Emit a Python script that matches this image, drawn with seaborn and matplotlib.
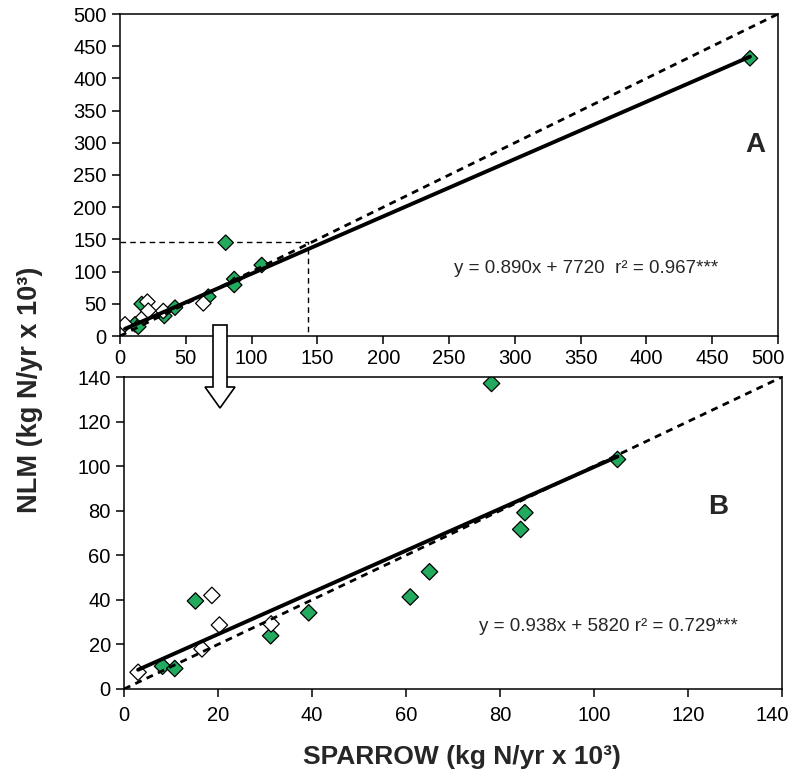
import numpy as np
import pandas as pd
import seaborn as sns
import matplotlib.pyplot as plt
from matplotlib.patches import Polygon
from matplotlib.transforms import ScaledTranslation

sns.set_style('ticks')
plt.rcParams['font.family'] = ['Liberation Sans', 'DejaVu Sans']

GREEN = '#22ab5f'

# Panel A: all watersheds (SPARROW vs NLM, kg N/yr x 10^3)
a_open_x = [3.8, 17.7, 20.8, 21.5, 32.9, 63.3]
a_open_y = [18.1, 29.0, 53.3, 39.3, 38.8, 50.7]
a_fill_x = [11.4, 13.9, 16.5, 33.7, 41.8, 67.1, 80.3, 86.8, 86.8, 107.7, 478.7]
a_fill_y = [18.1, 14.4, 49.7, 31.1, 44.0, 61.1, 144.9, 88.5, 79.2, 110.2, 431.2]

# Panel B: zoom on the small watersheds
b_open_x = [3.0, 16.6, 18.7, 20.3, 31.3]
b_open_y = [7.5, 18.0, 42.0, 28.7, 29.2]
b_fill_x = [8.2, 10.8, 15.2, 31.2, 39.3, 60.9, 65.0, 78.2, 84.4, 85.3, 105.0]
b_fill_y = [10.2, 9.2, 39.5, 23.9, 34.2, 41.3, 52.6, 137.1, 71.6, 79.1, 103.0]

# regression fits (slope, intercept in 10^3 units)
fit_a = (0.890, 7.720)
fit_b = (0.938, 5.820)
label_a = 'y = 0.890x + 7720  r² = 0.967***'
label_b = 'y = 0.938x + 5820 r² = 0.729***'

# zoom box drawn on panel A
zoom_x, zoom_y = 143, 146


def make_df(fx, fy, ox, oy):
    return pd.DataFrame({
        'SPARROW': fx + ox,
        'NLM': fy + oy,
        'group': ['filled'] * len(fx) + ['open'] * len(ox),
    })


def draw_panel(ax, df, fit, lim, step, text, text_xy, letter, letter_xy, msize):
    sns.scatterplot(data=df, x='SPARROW', y='NLM', hue='group',
                    palette={'filled': GREEN, 'open': 'white'},
                    marker='D', s=msize, edgecolor='black', linewidth=0.9,
                    legend=False, ax=ax, zorder=2)
    # 1:1 line
    ax.plot([0, lim], [0, lim], color='black', lw=2, ls=(0, (2.5, 2)), zorder=3)
    # regression line over data range
    xs = np.array([df['SPARROW'].min(), df['SPARROW'].max()])
    ax.plot(xs, fit[0] * xs + fit[1], color='black', lw=2.8, zorder=3)
    ax.set_xlim(0, lim)
    ax.set_ylim(0, lim)
    ticks = np.arange(0, lim + 1, step)
    ax.set_xticks(ticks)
    ax.set_yticks(ticks)
    ax.set_xlabel('')
    ax.set_ylabel('')
    ax.tick_params(direction='out', length=5.5, width=1.1, labelsize=14.5, pad=4, colors='black')
    for s in ax.spines.values():
        s.set_visible(True)
        s.set_linewidth(1.1)
        s.set_color('black')
    ax.text(text_xy[0], text_xy[1], text, fontsize=13.5, va='center', ha='left')
    ax.text(letter_xy[0], letter_xy[1], letter, fontsize=20, fontweight='bold',
            va='center', ha='center')


fig = plt.figure(figsize=(7.93, 7.73), dpi=100)
W, H = 793, 773
ax_a = fig.add_axes([120 / W, (H - 336) / H, 658 / W, 322 / H])
ax_b = fig.add_axes([124 / W, (H - 689) / H, 658 / W, 312 / H])

draw_panel(ax_a, make_df(a_fill_x, a_fill_y, a_open_x, a_open_y), fit_a, 500, 50,
           label_a, (254, 105), 'A', (483, 297), 62)
ax_a.plot([0, zoom_x, zoom_x], [zoom_y, zoom_y, 0], color='black', lw=1,
          ls=(0, (4, 3)), zorder=1)

draw_panel(ax_b, make_df(b_fill_x, b_fill_y, b_open_x, b_open_y), fit_b, 140, 20,
           label_b, (75.5, 28), 'B', (126.4, 81.7), 70)
ax_b.tick_params(axis='x', pad=7)

# keep the right-most tick labels inside the figure
for ax in (ax_a, ax_b):
    last = ax.get_xticklabels()[-1]
    last.set_transform(last.get_transform() + ScaledTranslation(-0.1, 0, fig.dpi_scale_trans))

# hollow arrow from panel A down to panel B
arrow_px = [(213, 325), (227, 325), (227, 387), (235, 387), (220, 408), (205, 387), (213, 387)]
arrow = Polygon([(x / 100, (H - y) / 100) for x, y in arrow_px], closed=True,
                facecolor='white', edgecolor='black', lw=1.2,
                transform=fig.dpi_scale_trans, zorder=10)
fig.patches.append(arrow)

fig.text(462 / W, (H - 757) / H, 'SPARROW (kg N/yr x 10³)', fontsize=19,
         fontweight='bold', ha='center', va='center')
fig.text(30 / W, (H - 390) / H, 'NLM (kg N/yr x 10³)', fontsize=19.5,
         fontweight='bold', ha='center', va='center', rotation=90)

fig.savefig('out.png', dpi=100)
